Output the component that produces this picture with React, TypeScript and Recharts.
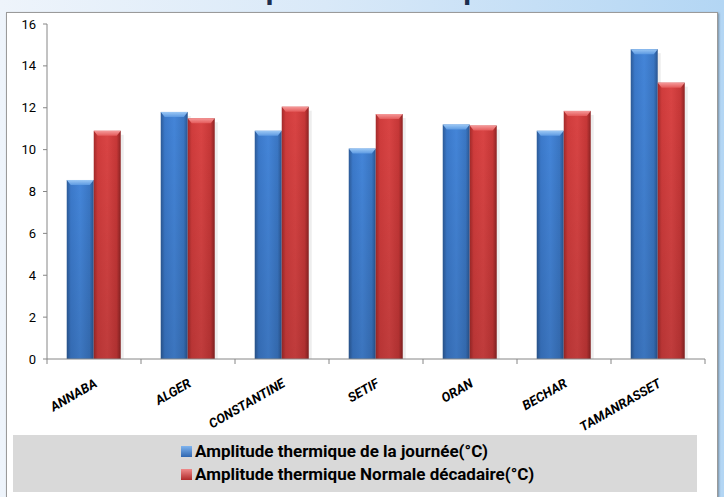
import React from "react";
import { Bar, BarChart, XAxis, YAxis } from "recharts";

const cities = ["ANNABA", "ALGER", "CONSTANTINE", "SETIF", "ORAN", "BECHAR", "TAMANRASSET"];
const journee = [8.55, 11.8, 10.9, 10.05, 11.2, 10.9, 14.8];
const normale = [10.9, 11.5, 12.05, 11.7, 11.15, 11.85, 13.2];
const yTicks = [0, 2, 4, 6, 8, 10, 12, 14, 16];
const legendLabels = [
  "Amplitude thermique de la journée(°C)",
  "Amplitude thermique Normale décadaire(°C)",
];

const data = cities.map((city, i) => ({ city, journee: journee[i], normale: normale[i] }));

const FONT = '"Liberation Sans Narrow", "Roboto", "Liberation Sans", sans-serif';
const CHART_W = 724;
const CHART_H = 497;
const MARGIN = { top: 24, right: 19, left: 0, bottom: 78 };
const Y_WIDTH = 47;
const STEP = (CHART_W - MARGIN.left - MARGIN.right - Y_WIDTH) / cities.length;

function BevelBar(props: any) {
  const { x, y, width, height, tone } = props;
  if (!height || height <= 0) return null;
  const bevel = Math.min(5, height);
  return (
    <g>
      <rect x={x + width} y={y + 4} width={3} height={height - 4} fill="rgba(0,0,0,0.07)" />
      <rect x={x} y={y} width={width} height={height} fill={`url(#${tone}-body)`} />
      <rect x={x} y={y} width={width} height={height} fill="url(#shade-v)" />
      <polygon
        points={`${x},${y} ${x + width},${y} ${x + width - 4},${y + bevel} ${x + 4},${y + bevel}`}
        fill={`url(#${tone}-top)`}
      />
    </g>
  );
}

function CityTick(props: any) {
  const { x, y, payload, index } = props;
  const left = x - STEP / 2;
  const tx = x + 4;
  const ty = y + 19;
  // y here sits a few px under the axis line
  const axisY = y - 8;
  return (
    <g>
      <line x1={left} y1={axisY} x2={left} y2={axisY + 5} stroke="#868686" />
      {index === cities.length - 1 && (
        <line x1={x + STEP / 2} y1={axisY} x2={x + STEP / 2} y2={axisY + 5} stroke="#868686" />
      )}
      <text
        x={tx}
        y={ty}
        textAnchor="end"
        transform={`rotate(-30, ${tx}, ${ty})`}
        fontFamily={FONT}
        fontSize={13}
        fontStyle="italic"
        fontWeight="bold"
        fill="#000"
      >
        {payload.value}
      </text>
    </g>
  );
}

export default function App() {
  return (
    <div
      style={{
        position: "absolute",
        left: 0,
        top: 0,
        width: CHART_W,
        height: CHART_H,
        overflow: "hidden",
        background: "linear-gradient(to right, #eef4fb 0%, #d9e9f8 45%, #b3d6f4 100%)",
      }}
    >
      {/* title sits above the frame and is mostly cut off, as in the source */}
      <div
        style={{
          position: "absolute",
          left: 0,
          width: CHART_W,
          top: -26,
          textAlign: "center",
          fontFamily: FONT,
          fontWeight: "bold",
          fontSize: 30,
          lineHeight: "30px",
          color: "#1d2f4f",
        }}
      >
        Amplitude thermique
      </div>
      <div
        style={{
          position: "absolute",
          left: 6,
          top: 12,
          width: 710,
          height: 490,
          background: "#fff",
          border: "1px solid #9a9a9a",
          boxShadow: "1px 1px 2px rgba(0,0,0,0.35)",
        }}
      />
      <div
        style={{
          position: "absolute",
          left: 13,
          top: 435,
          width: 684,
          height: 57,
          background: "#d9d9d9",
        }}
      />
      <div style={{ position: "absolute", left: 0, top: 0 }}>
        <BarChart
          width={CHART_W}
          height={CHART_H}
          data={data}
          margin={MARGIN}
          barCategoryGap="21%"
          barGap={0}
        >
          <defs>
            <linearGradient id="blue-body" x1="0" x2="1" y1="0" y2="0">
              <stop offset="0%" stopColor="#2c5a97" />
              <stop offset="15%" stopColor="#3b79ca" />
              <stop offset="50%" stopColor="#4485d8" />
              <stop offset="85%" stopColor="#3a76c3" />
              <stop offset="100%" stopColor="#2a5590" />
            </linearGradient>
            <linearGradient id="blue-top" x1="0" x2="0" y1="0" y2="1">
              <stop offset="0%" stopColor="#9cc8f5" />
              <stop offset="100%" stopColor="#5d9ae2" />
            </linearGradient>
            <linearGradient id="red-body" x1="0" x2="1" y1="0" y2="0">
              <stop offset="0%" stopColor="#a32a2a" />
              <stop offset="15%" stopColor="#d03c3c" />
              <stop offset="50%" stopColor="#d94444" />
              <stop offset="85%" stopColor="#c63737" />
              <stop offset="100%" stopColor="#8c2323" />
            </linearGradient>
            <linearGradient id="red-top" x1="0" x2="0" y1="0" y2="1">
              <stop offset="0%" stopColor="#f59a9a" />
              <stop offset="100%" stopColor="#e45a5a" />
            </linearGradient>
            <linearGradient id="shade-v" x1="0" x2="0" y1="0" y2="1">
              <stop offset="0%" stopColor="#000" stopOpacity={0} />
              <stop offset="100%" stopColor="#000" stopOpacity={0.12} />
            </linearGradient>
          </defs>
          <XAxis
            dataKey="city"
            axisLine={{ stroke: "#868686" }}
            tickLine={false}
            interval={0}
            height={60}
            tick={<CityTick />}
          />
          <YAxis
            domain={[0, 16]}
            ticks={yTicks}
            width={Y_WIDTH}
            axisLine={{ stroke: "#868686" }}
            tickLine={{ stroke: "#868686" }}
            tickSize={4}
            tickMargin={7}
            tick={{ fontFamily: FONT, fontSize: 13, fill: "#000" }}
          />
          <Bar
            dataKey="journee"
            isAnimationActive={false}
            shape={(p: any) => <BevelBar {...p} tone="blue" />}
          />
          <Bar
            dataKey="normale"
            isAnimationActive={false}
            shape={(p: any) => <BevelBar {...p} tone="red" />}
          />
        </BarChart>
      </div>
      <div
        style={{
          position: "absolute",
          left: 181,
          top: 440,
          fontFamily: FONT,
          fontWeight: "bold",
          fontSize: 17,
          lineHeight: "23px",
          color: "#000",
        }}
      >
        {legendLabels.map((label, i) => (
          <div key={label} style={{ display: "flex", alignItems: "center", whiteSpace: "nowrap" }}>
            <span
              style={{
                display: "inline-block",
                width: 11,
                height: 11,
                marginRight: 3,
                background: i === 0 ? "linear-gradient(#7fb4ef, #2f66b0)" : "linear-gradient(#f08a8a, #b02a2a)",
              }}
            />
            {label}
          </div>
        ))}
      </div>
    </div>
  );
}
